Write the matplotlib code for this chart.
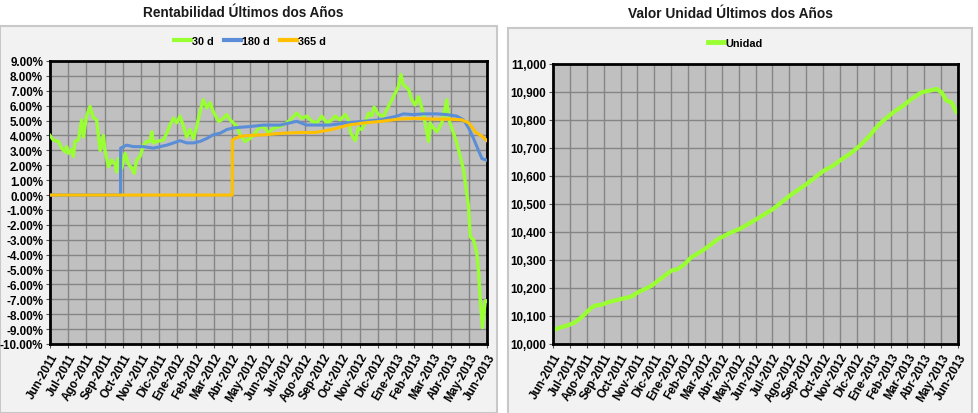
import matplotlib
matplotlib.use("Agg")
from matplotlib import pyplot as plt
from matplotlib.patches import Rectangle
from matplotlib.ticker import FixedLocator

plt.rcParams['font.family'] = ['Liberation Sans', 'DejaVu Sans']
plt.rcParams['font.weight'] = 'bold'

# month labels (x = months since Jun-2011)
month_labels = ['Jun-2011', 'Jul-2011', 'Ago-2011', 'Sep-2011', 'Oct-2011', 'Nov-2011',
                'Dic-2011', 'Ene-2012', 'Feb-2012', 'Mar-2012', 'Abr-2012', 'May-2012',
                'Jun-2012', 'Jul-2012', 'Ago-2012', 'Sep-2012', 'Oct-2012', 'Nov-2012',
                'Dic-2012', 'Ene-2013', 'Feb-2013', 'Mar-2013', 'Abr-2013', 'May-2013',
                'Jun-2013']

# 30 d return (%)
t_30d = [0.0, 0.18, 0.46, 0.64, 0.82, 0.92, 1.01, 1.19, 1.28, 1.37, 1.56, 1.74, 1.83, 2.01,
         2.20, 2.38, 2.56, 2.75, 2.93, 3.02, 3.21, 3.39, 3.57, 3.66, 3.75, 3.94, 4.12, 4.30,
         4.49, 4.62, 4.76, 4.95, 5.13, 5.31, 5.49, 5.59, 5.68, 5.86, 6.23, 6.41, 6.59, 6.78,
         6.96, 7.14, 7.33, 7.51, 7.69, 7.88, 8.06, 8.24, 8.42, 8.61, 8.79, 8.97, 9.25, 9.43,
         9.71, 9.89, 10.07, 10.26, 10.44, 10.71, 10.99, 11.26, 11.54, 11.81, 12.0, 12.27,
         12.64, 13.0, 13.28, 13.55, 13.83, 14.1, 14.38, 14.65, 14.93, 15.2, 15.48, 15.66,
         15.93, 16.21, 16.39, 16.52, 16.76, 16.94, 17.12, 17.31, 17.49, 17.67, 17.8, 18.04,
         18.32, 18.59, 18.86, 19.14, 19.27, 19.41, 19.69, 19.87, 20.05, 20.24, 20.42, 20.6,
         20.79, 20.88, 21.06, 21.25, 21.52, 21.7, 21.79, 21.89, 22.16, 22.34, 22.53, 22.71,
         22.89, 22.99, 23.08, 23.26, 23.44, 23.53, 23.63, 23.75, 23.9, 24.0]
r_30d = [4.0, 3.7, 3.6, 3.15, 2.9, 3.25, 2.8, 3.05, 2.6, 3.6, 3.7, 5.05, 3.9, 5.3,
         5.95, 5.2, 5.05, 3.0, 4.0, 3.0, 1.9, 2.35, 2.1, 1.55, 2.45, 1.8, 2.8, 2.1,
         1.8, 1.45, 2.35, 2.6, 3.35, 3.6, 3.6, 4.25, 3.5, 3.6, 3.7, 4.15, 4.7, 5.15,
         4.85, 5.3, 4.6, 3.9, 4.4, 3.8, 4.6, 5.6, 6.4, 5.85, 6.2, 5.6, 4.95, 5.05,
         5.4, 5.05, 4.85, 4.6, 4.05, 3.6, 3.8, 4.15, 4.6, 4.5, 4.15, 4.5,
         4.6, 4.85, 5.15, 5.5, 5.15, 5.3, 4.95, 4.85, 5.3, 4.85, 5.05, 5.3,
         5.05, 5.4, 5.05, 4.15, 3.65, 4.5, 4.4, 4.85, 5.5, 5.3, 5.9, 5.4,
         5.3, 5.95, 6.6, 7.3, 8.1, 7.4, 7.1, 6.4, 6.05, 6.6, 5.85, 4.85,
         3.6, 4.85, 4.5, 4.25, 4.85, 5.85, 6.4, 5.15, 4.15, 3.5, 2.6, 1.7,
         0.1, -0.8, -2.8, -3.0, -3.9, -5.05, -7.1, -8.9, -7.1, -7.1]

# 180 d return (%)
t_180d = [0.0, 3.87, 3.88, 4.21, 4.58, 5.13, 5.68, 6.04, 6.41, 6.78, 7.14, 7.51, 7.88, 8.24,
          8.61, 8.97, 9.34, 9.71, 10.07, 10.44, 10.99, 11.72, 12.64, 13.55, 14.1, 14.65,
          15.38, 16.3, 17.22, 18.13, 19.05, 19.41, 19.96, 20.51, 21.25, 21.79, 22.34, 22.71,
          22.99, 23.26, 23.53, 23.72, 23.96]
r_180d = [0.0, 0.0, 3.15, 3.35, 3.25, 3.25, 3.15, 3.25, 3.35, 3.5, 3.65, 3.5, 3.5, 3.6,
          3.8, 4.05, 4.15, 4.4, 4.5, 4.55, 4.6, 4.7, 4.7, 4.95, 4.7, 4.7,
          4.7, 4.85, 4.95, 5.05, 5.3, 5.45, 5.4, 5.45, 5.45, 5.4, 5.3, 5.05,
          4.5, 3.8, 3.0, 2.45, 2.35]

# 365 d return (%)
t_365d = [0.0, 10.01, 10.02, 10.44, 10.99, 11.81, 12.73, 13.64, 14.56, 15.48, 16.39, 17.31,
          18.22, 19.14, 20.05, 20.97, 21.89, 22.62, 22.99, 23.35, 23.72, 24.0]
r_365d = [0.0, 0.0, 3.7, 3.95, 4.0, 4.05, 4.15, 4.2, 4.2, 4.4, 4.7, 4.85,
          4.95, 5.1, 5.15, 5.1, 5.1, 5.05, 4.85, 4.25, 3.95, 3.65]

# unit value
t_unit = [0.0, 0.49, 0.99, 1.28, 1.68, 1.98, 2.27, 2.47, 2.87, 3.26, 3.66, 4.05, 4.64, 5.04,
          5.43, 5.83, 6.23, 6.62, 7.02, 7.41, 7.81, 8.2, 8.6, 8.99, 9.39, 9.78, 10.18, 10.57,
          11.07, 12.06, 13.04, 14.03, 15.02, 16.0, 16.6, 16.99, 17.59, 18.18, 18.77, 19.17,
          19.57, 20.16, 20.75, 21.25, 21.84, 22.33, 22.73, 23.02, 23.32, 23.62, 23.91, 24.0]
v_unit = [10050, 10060, 10069, 10077, 10095, 10113, 10129, 10137, 10140, 10149, 10155, 10161,
          10169, 10185, 10196, 10208, 10226, 10244, 10262, 10268, 10286, 10310, 10324, 10339,
          10357, 10375, 10387, 10399, 10411, 10446, 10482, 10530, 10571, 10617, 10637, 10655,
          10679, 10708, 10744, 10774, 10798, 10827, 10851, 10875, 10899, 10905, 10911, 10899,
          10869, 10863, 10827, 10827]

GREEN = '#99ff33'
BLUE = '#5b8ed6'
ORANGE = '#ffc000'
TICK_FS = 8.4

fig = plt.figure(figsize=(9.79, 4.14), dpi=100)
fig.patch.set_facecolor('white')

# panel backgrounds (behind the axes)
fig.patches.append(Rectangle((0, 0), 497 / 979, 387 / 414, transform=fig.transFigure,
                             facecolor='#f2f2f2', edgecolor='#c8c8c8', lw=1.5, zorder=-10))
fig.patches.append(Rectangle((508 / 979, -0.01), 464 / 979, 385 / 414 + 0.01,
                             transform=fig.transFigure, facecolor='#f2f2f2',
                             edgecolor='#c8c8c8', lw=1.5, zorder=-10))

fig.text(243 / 979, 1 - 13 / 414, 'Rentabilidad Últimos dos Años', ha='center', va='center',
         fontsize=9.8, fontweight='bold', color='#1a1a1a')
fig.text(730 / 979, 1 - 14 / 414, 'Valor Unidad Últimos dos Años', ha='center', va='center',
         fontsize=9.9, fontweight='bold', color='#1a1a1a')


def style_axes(ax):
    ax.set_facecolor('#c0c0c0')
    ax.set_axisbelow(True)
    ax.grid(True, color='#858585', lw=1.0)
    for s in ax.spines.values():
        s.set_linewidth(2.0)
        s.set_color('black')
    ax.set_xlim(0, 24)
    ax.xaxis.set_major_locator(FixedLocator(range(25)))
    ax.set_xticklabels(month_labels, rotation=60, ha='right', rotation_mode='anchor',
                       fontsize=TICK_FS, fontweight='bold')
    ax.tick_params(axis='both', length=3, width=0.8, color='#555555', pad=2)


# left chart
ax1 = fig.add_axes([50 / 979, 69 / 414, 437 / 979, 283 / 414])
style_axes(ax1)
ax1.plot(t_30d, r_30d, color=GREEN, lw=2.4, label='30 d', zorder=3)
ax1.plot(t_180d, r_180d, color=BLUE, lw=2.2, label='180 d', zorder=4)
ax1.plot(t_365d, r_365d, color=ORANGE, lw=2.2, label='365 d', zorder=5)
ax1.set_ylim(-10, 9)
ax1.set_yticks(range(-10, 10))
ax1.set_yticklabels(['%.2f%%' % v for v in range(-10, 10)], fontsize=TICK_FS,
                    fontweight='bold')
leg1 = ax1.legend(loc='center', bbox_to_anchor=(250 / 979, 1 - 42 / 414),
                  bbox_transform=fig.transFigure, ncol=3, frameon=False,
                  handlelength=1.5, handletextpad=0.1, columnspacing=1.0,
                  prop={'weight': 'bold', 'size': 7.8})
for h in leg1.get_lines():
    h.set_linewidth(3)

# right chart
ax2 = fig.add_axes([553 / 979, 69 / 414, 405 / 979, 280 / 414])
style_axes(ax2)
ax2.plot(t_unit, v_unit, color=GREEN, lw=3.0, label='Unidad')
ax2.set_ylim(10000, 11000)
ax2.set_yticks(range(10000, 11001, 100))
ax2.set_yticklabels(['{:,}'.format(v) for v in range(10000, 11001, 100)], fontsize=TICK_FS,
                    fontweight='bold')
leg2 = ax2.legend(loc='center', bbox_to_anchor=(735 / 979, 1 - 44 / 414),
                  bbox_transform=fig.transFigure, frameon=False,
                  handlelength=1.5, handletextpad=0.1, prop={'weight': 'bold', 'size': 7.8})
for h in leg2.get_lines():
    h.set_linewidth(3.5)

fig.savefig('out.png', dpi=100)
